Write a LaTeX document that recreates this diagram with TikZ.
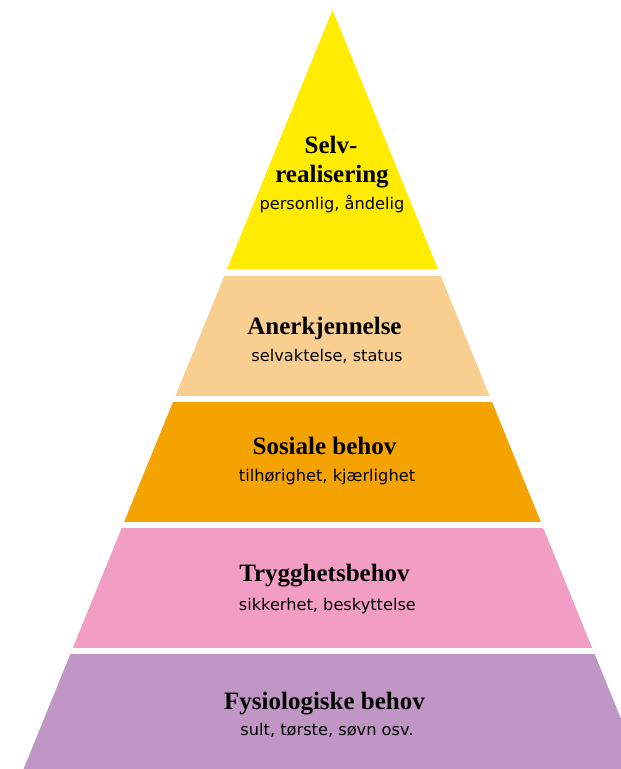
\documentclass[tikz,border=0pt]{standalone}
\usepackage{fontspec}
\setmainfont{Liberation Serif}
\setsansfont{DejaVu Sans}
\definecolor{selvgul}{HTML}{FFEC00}
\definecolor{anerkfarge}{HTML}{F9CF91}
\definecolor{sosialfarge}{HTML}{F5A300}
\definecolor{tryggfarge}{HTML}{F29DC4}
\definecolor{fysiofarge}{HTML}{C096C4}
\tikzset{
  heading/.style={font=\rmfamily\bfseries\fontsize{25}{29}\selectfont, anchor=base, inner sep=0pt},
  subline/.style={font=\sffamily\fontsize{16.2}{19}\selectfont, anchor=base, inner sep=0pt},
}
\begin{document}
\begin{tikzpicture}[x=1pt,y=-1pt]
\useasboundingbox (0,0) rectangle (621,769);
\clip (0,0) rectangle (621,769);
% the bands of the pyramid
\foreach \ytop/\ybot/\col in {10/268/selvgul, 276/395/anerkfarge, 402/521/sosialfarge,
                              528/647/tryggfarge, 654/780/fysiofarge}{
  \begin{scope}
    \clip (0,\ytop) rectangle (621,\ybot);
    \fill[\col] (332.5,10) -- (645.9,780) -- (19.1,780) -- cycle;
  \end{scope}
}
% texts
\node[heading] (selv) at (331,153) {Selv-};
\node[heading] (real) at (332,182) {realisering};
\node[subline] (personlig) at (332,209) {personlig, åndelig};
\node[heading] (anerk) at (324.5,334) {Anerkjennelse};
\node[subline] (selvakt) at (327,361.7) {selvaktelse, status};
\node[heading] (sosial) at (324.5,454) {Sosiale behov};
\node[subline] (tilhor) at (327,481.7) {tilhørighet, kjærlighet};
\node[heading] (trygg) at (324.5,581.7) {Trygghetsbehov};
\node[subline] (sikker) at (327.4,610) {sikkerhet, beskyttelse};
\node[heading] (fysio) at (324.5,709) {Fysiologiske behov};
\node[subline] (sult) at (327,735.7) {sult, tørste, søvn osv.};
\end{tikzpicture}
\end{document}
